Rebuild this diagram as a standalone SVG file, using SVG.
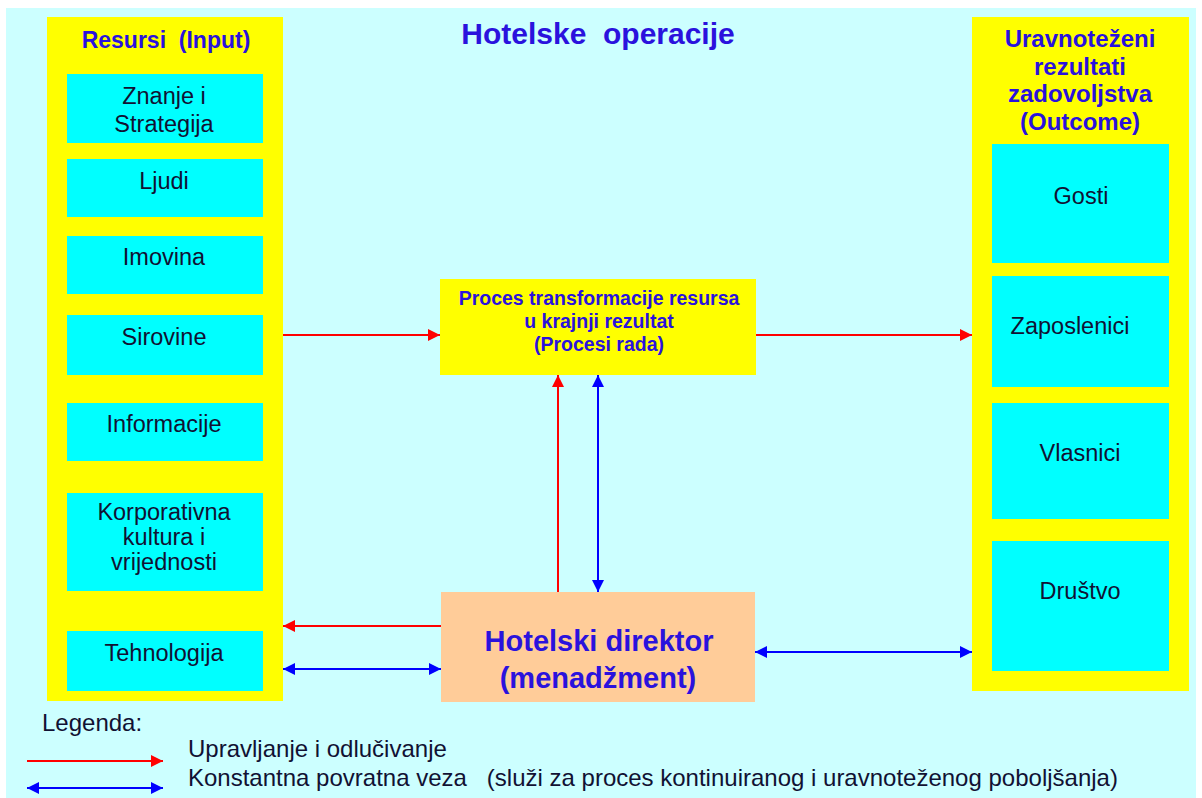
<svg xmlns="http://www.w3.org/2000/svg" width="1202" height="798" viewBox="0 0 1202 798">
<defs>
<marker id="ar" viewBox="0 0 12 12" markerUnits="userSpaceOnUse" markerWidth="13" markerHeight="12" refX="12" refY="6" orient="auto-start-reverse"><path d="M0,0 L12,6 L0,12 z" fill="#FF0000"/></marker>
<marker id="ab" viewBox="0 0 12 12" markerUnits="userSpaceOnUse" markerWidth="13" markerHeight="12" refX="12" refY="6" orient="auto-start-reverse"><path d="M0,0 L12,6 L0,12 z" fill="#0000FF"/></marker>
<style>
.panel{fill:#FFFF00}
.item{fill:#00FFFF}
.hdr{font-family:"Liberation Sans",Arial,sans-serif;font-weight:bold;fill:#2A12DD;text-anchor:middle}
.lbl{font-family:"Liberation Sans",Arial,sans-serif;font-size:23.5px;fill:#111133;text-anchor:middle}
.leg{font-family:"Liberation Sans",Arial,sans-serif;font-size:24px;fill:#111133}
.red{stroke:#FF0000;stroke-width:2;fill:none;marker-end:url(#ar)}
.blue{stroke:#0000FF;stroke-width:2;fill:none;marker-end:url(#ab);marker-start:url(#ab)}
</style>
</defs>
<rect x="0" y="0" width="1202" height="798" fill="#FFFFFF"/>
<rect x="6" y="8" width="1190" height="790" fill="#CCFFFF"/>
<text class="hdr" x="598" y="44" font-size="30" xml:space="preserve">Hotelske  operacije</text>

<g id="resursi">
<rect class="panel" x="47" y="17" width="236" height="684"/>
<text class="hdr" x="166" y="48" font-size="23" xml:space="preserve">Resursi  (Input)</text>
</g>
<g id="znanje"><rect class="item" x="67" y="74" width="196" height="69"/><text class="lbl" x="164" y="104">Znanje i</text><text class="lbl" x="164" y="132">Strategija</text></g>
<g id="ljudi"><rect class="item" x="67" y="159" width="196" height="58"/><text class="lbl" x="164" y="189">Ljudi</text></g>
<g id="imovina"><rect class="item" x="67" y="236" width="196" height="58"/><text class="lbl" x="164" y="265">Imovina</text></g>
<g id="sirovine"><rect class="item" x="67" y="315" width="196" height="60"/><text class="lbl" x="164" y="345">Sirovine</text></g>
<g id="informacije"><rect class="item" x="67" y="403" width="196" height="58"/><text class="lbl" x="164" y="432">Informacije</text></g>
<g id="korporativna"><rect class="item" x="67" y="493" width="196" height="98"/><text class="lbl" x="164" y="520">Korporativna</text><text class="lbl" x="164" y="545">kultura i</text><text class="lbl" x="164" y="570">vrijednosti</text></g>
<g id="tehnologija"><rect class="item" x="67" y="631" width="196" height="60"/><text class="lbl" x="164" y="661">Tehnologija</text></g>

<g id="proces">
<rect x="440" y="279" width="316" height="96" fill="#FFFF00"/>
<text class="hdr" x="599" y="305" font-size="19.5">Proces transformacije resursa</text>
<text class="hdr" x="599" y="328" font-size="19.5">u krajnji rezultat</text>
<text class="hdr" x="599" y="351" font-size="19.5">(Procesi rada)</text>
</g>

<g id="direktor">
<rect x="441" y="592" width="314" height="110" fill="#FFCC99"/>
<text class="hdr" x="599" y="651" font-size="29">Hotelski direktor</text>
<text class="hdr" x="598" y="688" font-size="29">(menadžment)</text>
</g>

<g id="rezultati">
<rect class="panel" x="972" y="17" width="217" height="674"/>
<text class="hdr" x="1080" y="47" font-size="24">Uravnoteženi</text>
<text class="hdr" x="1080" y="75" font-size="24">rezultati</text>
<text class="hdr" x="1080" y="102" font-size="24">zadovoljstva</text>
<text class="hdr" x="1080" y="130" font-size="24">(Outcome)</text>
</g>
<g id="gosti"><rect class="item" x="992" y="144" width="177" height="119"/><text class="lbl" x="1081" y="204">Gosti</text></g>
<g id="zaposlenici"><rect class="item" x="992" y="276" width="177" height="111"/><text class="lbl" x="1070" y="334">Zaposlenici</text></g>
<g id="vlasnici"><rect class="item" x="992" y="403" width="177" height="116"/><text class="lbl" x="1080" y="461">Vlasnici</text></g>
<g id="drustvo"><rect class="item" x="992" y="541" width="177" height="130"/><text class="lbl" x="1080" y="599">Društvo</text></g>

<g id="connectors">
<path class="red" d="M283,335 L440,335"/>
<path class="red" d="M756,335 L972,335"/>
<path class="red" d="M558,592 L558,375"/>
<path class="blue" d="M598,375 L598,592"/>
<path class="red" d="M441,626 L283,626"/>
<path class="blue" d="M283,669 L441,669"/>
<path class="blue" d="M755,652 L972,652"/>
</g>

<g id="legenda">
<text class="leg" x="42" y="731">Legenda:</text>
<path class="red" d="M27,761 L163,761"/>
<path class="blue" d="M27,788 L163,788"/>
<text class="leg" x="188" y="757">Upravljanje i odlučivanje</text>
<text class="leg" x="188" y="786" xml:space="preserve">Konstantna povratna veza   (služi za proces kontinuiranog i uravnoteženog poboljšanja)</text>
</g>
</svg>
